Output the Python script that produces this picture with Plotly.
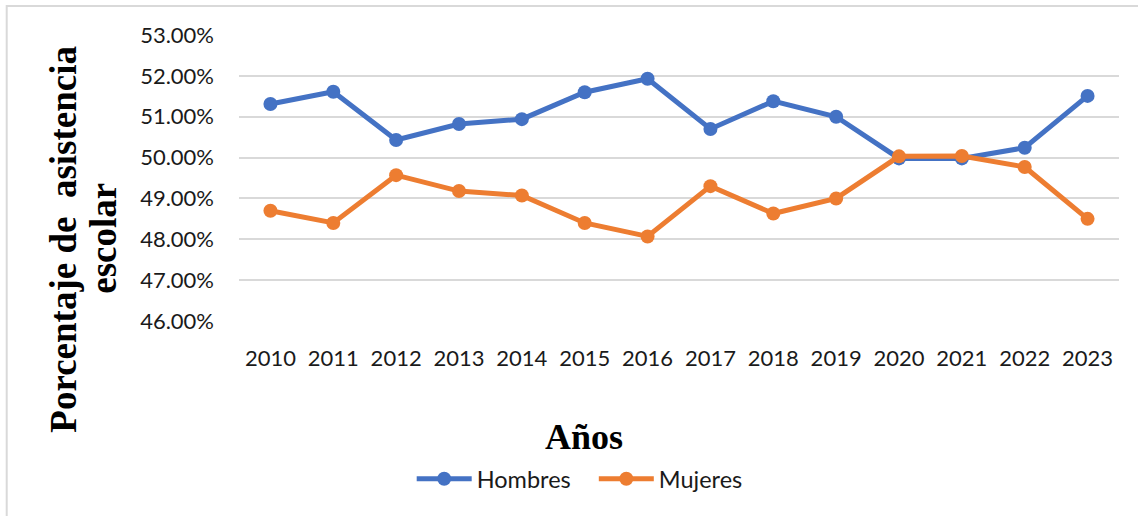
import plotly.graph_objects as go

years = ["2010", "2011", "2012", "2013", "2014", "2015", "2016",
         "2017", "2018", "2019", "2020", "2021", "2022", "2023"]
hombres = [51.31, 51.61, 50.43, 50.82, 50.94, 51.60, 51.93,
           50.70, 51.38, 51.00, 49.98, 49.98, 50.24, 51.51]
mujeres = [48.70, 48.40, 49.57, 49.18, 49.07, 48.40, 48.07,
           49.30, 48.63, 49.00, 50.03, 50.04, 49.77, 48.50]
y_ticks = [46, 47, 48, 49, 50, 51, 52, 53]

W, H = 1138, 516
# plot area in screen pixels
SX0, SX1, SY0, SY1 = 239.3, 1119.3, 35, 321
L, R, T, B = SX0, W - SX1, SY0, H - SY1
pw, ph = SX1 - SX0, SY1 - SY0

def px_x(x):
    return (x - SX0) / pw

def px_y(y):
    return (SY1 - y) / ph

TICK_FONT = dict(family="Lato, Carlito, Calibri, sans-serif", size=22, color="#1a1a1a")
LEG_FONT = dict(family="Lato, Carlito, Calibri, sans-serif", size=23.5, color="#1a1a1a")
SERIF = "Liberation Serif, Times New Roman, serif"

fig = go.Figure()
fig.add_trace(go.Scatter(
    x=years, y=hombres, name="Hombres\u00a0\u00a0\u00a0", mode="lines+markers",
    line=dict(color="#4472C4", width=5), marker=dict(size=14, color="#4472C4"),
))
fig.add_trace(go.Scatter(
    x=years, y=mujeres, name="Mujeres", mode="lines+markers",
    line=dict(color="#ED7D31", width=5), marker=dict(size=14, color="#ED7D31"),
))

fig.update_layout(
    width=W, height=H,
    margin=dict(l=L, r=R, t=T, b=B, autoexpand=False),
    paper_bgcolor="white", plot_bgcolor="white",
    showlegend=True,
    legend=dict(orientation="h", x=px_x(412), xanchor="left",
                y=px_y(479), yanchor="middle",
                font=LEG_FONT, itemwidth=55, bgcolor="rgba(0,0,0,0)"),
    xaxis=dict(type="category", range=[-0.5, len(years) - 0.5],
               showgrid=False, showline=False, zeroline=False,
               tickfont=TICK_FONT, ticks="", ticklabelstandoff=22),
    yaxis=dict(range=[46, 53], tickvals=y_ticks,
               ticktext=[f"{v:.2f}%" for v in y_ticks],
               showgrid=True, gridcolor="#d9d9d9", gridwidth=1.5,
               showline=False, zeroline=False,
               tickfont=TICK_FONT, ticks="", ticklabelstandoff=24),
    annotations=[
        dict(text="<b>Porcentaje de\u00a0 asistencia</b>", textangle=-90,
             xref="paper", yref="paper", x=px_x(63), y=px_y(239),
             xanchor="center", yanchor="middle", showarrow=False,
             font=dict(family=SERIF, size=37, color="black")),
        dict(text="<b>escolar</b>", textangle=-90,
             xref="paper", yref="paper", x=px_x(103), y=px_y(238),
             xanchor="center", yanchor="middle", showarrow=False,
             font=dict(family=SERIF, size=37, color="black")),
        dict(text="<b>Años</b>",
             xref="paper", yref="paper", x=px_x(584), y=px_y(437),
             xanchor="center", yanchor="middle", showarrow=False,
             font=dict(family=SERIF, size=36, color="black")),
    ],
    shapes=[
        dict(type="rect", xref="paper", yref="paper",
             x0=px_x(7), x1=px_x(1160), y0=px_y(540), y1=px_y(6),
             line=dict(color="#d9d9d9", width=2), fillcolor="rgba(0,0,0,0)",
             layer="below"),
    ],
)

fig.write_html(
    "out.html",
    config={"displayModeBar": False},
    post_script="document.body.style.margin='0';document.body.style.padding='0';",
)
